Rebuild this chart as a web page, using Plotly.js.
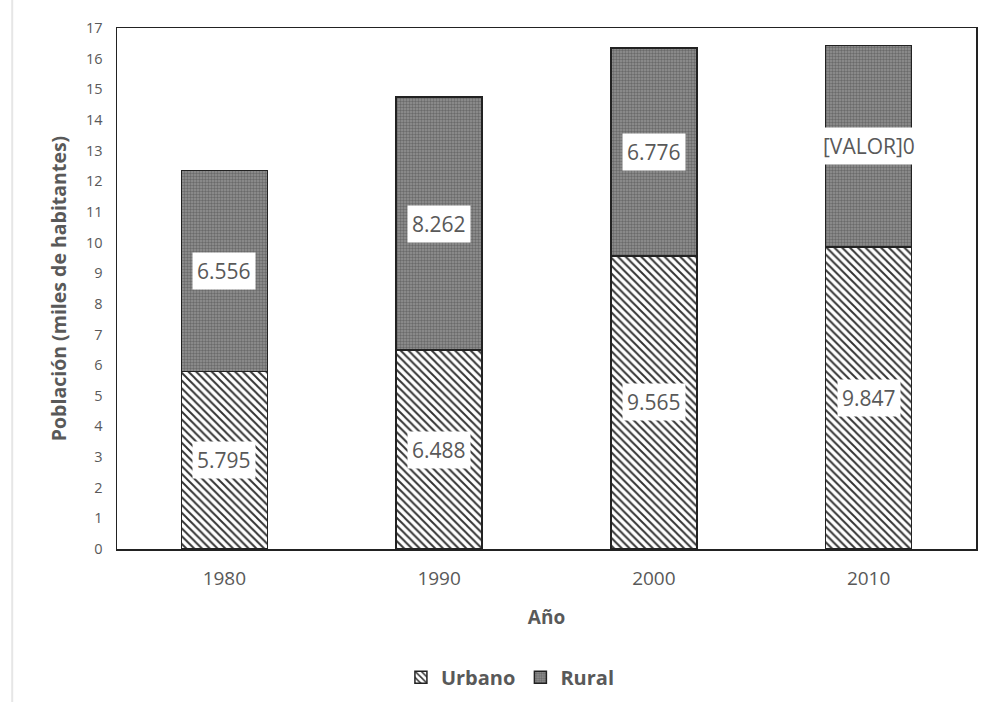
<!DOCTYPE html>
<html>
<head>
<meta charset="utf-8">
<script src="https://cdn.plot.ly/plotly-3.0.1.min.js"></script>
<style>html,body{margin:0;padding:0;background:#fff;}</style>
</head>
<body>
<div id="chart" style="width:989px;height:702px;"></div>
<script>
var years = ['1980', '1990', '2000', '2010'];
var urbano = [5.795, 6.488, 9.565, 9.847];
var rural = [6.556, 8.262, 6.776, 6.59];
var urbanoLabels = ['5.795', '6.488', '9.565', '9.847'];
var ruralLabels = ['6.556', '8.262', '6.776', '[VALOR]0'];
var yTicks = [0,1,2,3,4,5,6,7,8,9,10,11,12,13,14,15,16,17];

var textColor = '#595959';
var fontFam = '"Open Sans", "Noto Sans", sans-serif';

var traces = [
  {
    type: 'bar', name: 'Urbano', x: years, y: urbano,
    marker: {
      color: '#ffffff',
      line: {color: '#222222', width: 1.5},
      pattern: {shape: '\\', fgcolor: '#333333', bgcolor: '#ffffff', size: 5.5, solidity: 0.35}
    },
    hoverinfo: 'y'
  },
  {
    type: 'bar', name: 'Rural', x: years, y: rural,
    marker: {
      color: '#8a8a8a',
      line: {color: '#222222', width: 1.5},
      pattern: {shape: '.', fgcolor: '#6a6a6a', bgcolor: '#939393', size: 3, solidity: 0.5}
    },
    hoverinfo: 'y'
  }
];

var annotations = [];
for (var i = 0; i < years.length; i++) {
  annotations.push({
    x: i, y: urbano[i] / 2, xref: 'x', yref: 'y',
    text: urbanoLabels[i], showarrow: false,
    bgcolor: '#ffffff', borderpad: 4,
    font: {family: fontFam, size: 21, color: textColor}
  });
  annotations.push({
    x: i, y: urbano[i] + rural[i] / 2, xref: 'x', yref: 'y',
    text: ruralLabels[i], showarrow: false,
    bgcolor: '#ffffff', borderpad: 4,
    font: {family: fontFam, size: 21, color: textColor}
  });
}

var layout = {
  width: 989, height: 702,
  margin: {l: 117, r: 13, t: 28, b: 153, autoexpand: false},
  paper_bgcolor: '#ffffff', plot_bgcolor: '#ffffff',
  barmode: 'stack',
  bargap: 0.6,
  font: {family: fontFam, color: textColor},
  xaxis: {
    type: 'category',
    categoryorder: 'array', categoryarray: years,
    range: [-0.5, 3.5], autorange: false,
    showline: true, mirror: true, linecolor: '#222222', linewidth: 1.5,
    showgrid: false, ticks: 'outside', ticklen: 12, tickcolor: 'rgba(0,0,0,0)',
    tickfont: {family: fontFam, size: 19, color: textColor},
    title: {text: '<b>Año</b>', standoff: 20, font: {family: fontFam, size: 19, color: textColor}}
  },
  yaxis: {
    range: [0, 17], autorange: false,
    tickvals: yTicks,
    showline: true, mirror: true, linecolor: '#222222', linewidth: 1.5,
    showgrid: false, zeroline: false, ticks: 'outside', ticklen: 10, tickcolor: 'rgba(0,0,0,0)',
    tickfont: {family: fontFam, size: 14.5, color: textColor},
    title: {text: '<b>Población (miles de habitantes)</b>', standoff: 14, font: {family: fontFam, size: 19.5, color: textColor}}
  },
  showlegend: true,
  legend: {
    orientation: 'h', x: 0.458, xanchor: 'center', y: -0.246, yanchor: 'middle',
    traceorder: 'normal',
    font: {family: fontFam, size: 20, color: textColor, weight: 'bold'},
    itemwidth: 30, tracegroupgap: 0
  },
  annotations: annotations,
  shapes: [
    {type: 'line', xref: 'paper', yref: 'paper', x0: -0.122, x1: -0.122, y0: 1.06, y1: -0.3,
     line: {color: '#e6e6e6', width: 2}}
  ]
};

Plotly.newPlot('chart', traces, layout, {displayModeBar: false, staticPlot: true});
</script>
</body>
</html>
